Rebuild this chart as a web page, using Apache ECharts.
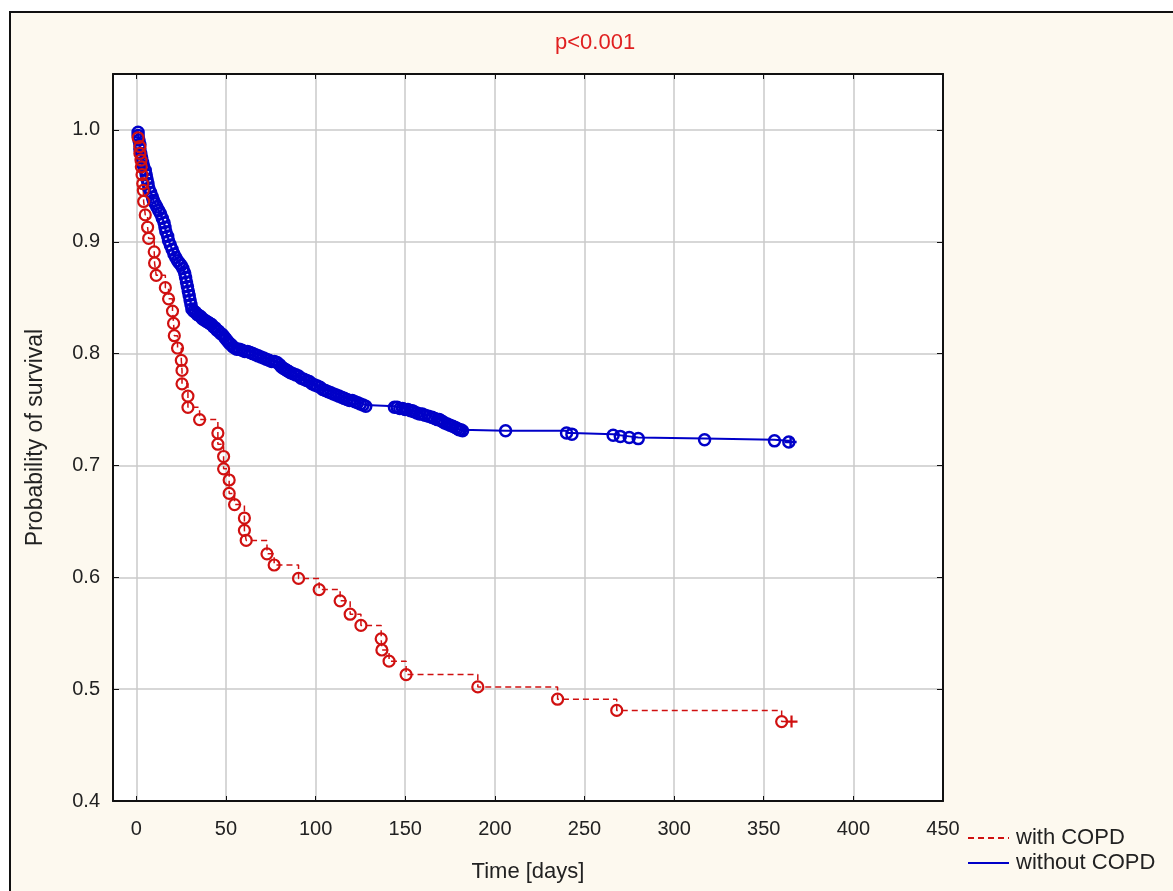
<!DOCTYPE html>
<html>
<head>
<meta charset="utf-8">
<title>Survival</title>
<script src="https://cdn.jsdelivr.net/npm/echarts@6/dist/echarts.min.js"></script>
<style>
  html, body { margin: 0; padding: 0; background: #fff; }
  #chart { width: 1173px; height: 891px; }
</style>
</head>
<body>
<div id="chart"></div>
<script>
// tick values
var xTicks = [0, 50, 100, 150, 200, 250, 300, 350, 400, 450];
var yTicks = [0.4, 0.5, 0.6, 0.7, 0.8, 0.9, 1.0];

// with COPD: [day, survival] at each event (circle)
var copdStart = [0, 1.0];
var copdEvents = [
  [1, 0.993], [2, 0.985], [2, 0.979], [2.6, 0.973], [2.8, 0.967], [3.2, 0.960], [3.6, 0.952], [3.9, 0.946],
  [4.1, 0.936], [5, 0.924], [6.3, 0.913], [6.9, 0.903], [10, 0.891], [10.2, 0.881], [11.1, 0.870], [16.2, 0.859],
  [18, 0.849], [20.2, 0.838], [20.8, 0.827], [21.2, 0.816], [23, 0.805], [25.1, 0.794], [25.5, 0.785], [25.5, 0.773],
  [28.8, 0.762], [28.8, 0.752], [35.3, 0.741], [45.5, 0.729], [45.5, 0.719], [48.7, 0.708], [48.7, 0.697], [51.8, 0.687],
  [51.8, 0.675], [54.8, 0.665], [60.3, 0.653], [60.3, 0.642], [61.3, 0.633], [72.9, 0.621], [76.9, 0.611], [90.5, 0.599],
  [102, 0.589], [113.7, 0.579], [119.3, 0.567], [125.3, 0.557], [136.6, 0.545], [137, 0.535], [141, 0.525], [150.5, 0.513],
  [190.5, 0.502], [235, 0.491], [268, 0.481], [360, 0.471]
];
var copdCensored = [[365.5, 0.471]];

// without COPD
var noCopdStart = [0, 1.0];
var noCopdEvents = [
  [1, 0.998], [1, 0.995], [1.5, 0.991], [2, 0.987], [2, 0.983], [2.5, 0.979], [3, 0.975], [3.5, 0.971],
  [4, 0.968], [5, 0.964], [5.5, 0.960], [6, 0.956], [6.5, 0.952], [7, 0.948], [8, 0.944], [9, 0.940],
  [9.5, 0.937], [10.5, 0.934], [11.5, 0.931], [12.5, 0.928], [13.5, 0.925], [14.5, 0.921], [15.5, 0.917], [16, 0.913],
  [16.5, 0.909], [17.5, 0.905], [18, 0.901], [19, 0.897], [20, 0.893], [21, 0.889], [22, 0.886], [23, 0.883],
  [24, 0.881], [25, 0.879], [26, 0.876], [27, 0.872], [27.5, 0.868], [28, 0.864], [28.5, 0.860], [29, 0.856],
  [29.5, 0.852], [30, 0.848], [30.5, 0.844], [31, 0.840], [32, 0.838], [33, 0.837], [34, 0.835], [35, 0.834],
  [36, 0.833], [37, 0.831], [38, 0.830], [39, 0.829], [40, 0.828], [41, 0.827], [42, 0.826], [43, 0.824],
  [44, 0.823], [45, 0.821], [46, 0.820], [47, 0.818], [48, 0.817], [49, 0.815], [50, 0.813], [51, 0.811],
  [52, 0.809], [53, 0.808], [54, 0.806], [55, 0.805], [56, 0.804], [57.5, 0.804], [59, 0.803], [60.5, 0.802],
  [62, 0.802], [63.5, 0.801], [65, 0.800], [66.5, 0.799], [68, 0.798], [69.5, 0.797], [71, 0.796], [72.5, 0.795],
  [74, 0.794], [75.5, 0.793], [77, 0.793], [78.5, 0.792], [80, 0.790], [81, 0.788], [82, 0.787], [83, 0.786],
  [84, 0.785], [85, 0.784], [86, 0.783], [87.5, 0.782], [89, 0.781], [90.5, 0.780], [92, 0.778], [93.5, 0.777],
  [95, 0.776], [96.5, 0.775], [98, 0.773], [99.5, 0.772], [101, 0.771], [102.5, 0.770], [104, 0.768], [105.5, 0.767],
  [107, 0.766], [108.5, 0.765], [110, 0.764], [111.5, 0.763], [113, 0.762], [114.5, 0.761], [116, 0.760], [117.5, 0.759],
  [119, 0.758], [120.5, 0.758], [122, 0.757], [123.5, 0.756], [125, 0.755], [126.5, 0.754], [128, 0.753], [144, 0.752],
  [145.5, 0.752], [147, 0.751], [148.5, 0.751], [150, 0.750], [151.5, 0.750], [153, 0.749], [154, 0.749], [155, 0.748],
  [156.5, 0.747], [158, 0.746], [159.5, 0.746], [161, 0.745], [163, 0.744], [165, 0.743], [166.5, 0.742], [168, 0.741],
  [169, 0.741], [170, 0.740], [171, 0.739], [172, 0.738], [173.5, 0.737], [175, 0.736], [176.5, 0.735], [178, 0.734],
  [179, 0.733], [180, 0.732], [181, 0.732], [182, 0.731], [206, 0.731], [240, 0.729], [243, 0.728], [266, 0.727],
  [270, 0.726], [275, 0.725], [280, 0.724], [317, 0.723], [356, 0.722], [364, 0.721]
];
var noCopdCensored = [[365, 0.721]];

var RED = '#d01010';
var BLUE = '#0000c8';
var PLUS = 'path://M0,5L10,5M5,0L5,10';
var font = '"Liberation Sans", Arial, sans-serif';

function buildData(start, events, censored) {
  var d = [{ value: start, symbol: 'none' }];
  events.forEach(function (p) { d.push({ value: p }); });
  censored.forEach(function (p) { d.push({ value: p, symbol: PLUS, symbolSize: 12 }); });
  return d;
}

var chart = echarts.init(document.getElementById('chart'));
chart.setOption({
  animation: false,
  backgroundColor: '#ffffff',
  graphic: [
    {
      type: 'rect', z: -10, silent: true,
      shape: { x: 10, y: 12, width: 1200, height: 900 },
      style: { fill: '#fdf9ef', stroke: '#111', lineWidth: 2 }
    },
    {
      type: 'text', left: 555, top: 32,
      style: { text: 'p<0.001', fill: '#e02020', font: '22px ' + font }
    }
  ],
  grid: { left: 113, right: 230, top: 74, bottom: 90, show: true, backgroundColor: '#fff', borderWidth: 0 },
  legend: {
    orient: 'vertical', left: 967, top: 827, itemWidth: 41, itemHeight: 14, itemGap: 3, padding: 0,
    data: ['with COPD', 'without COPD'],
    itemStyle: { opacity: 0 },
    textStyle: { fontFamily: font, fontSize: 22, color: '#222', padding: [0, 0, 0, 2] }
  },
  xAxis: [
    {
      type: 'value', min: -13, max: 450,
      name: 'Time [days]', nameLocation: 'middle', nameGap: 60,
      nameTextStyle: { fontFamily: font, fontSize: 22, color: '#222' },
      axisLine: { onZero: false, lineStyle: { color: '#111', width: 2 } },
      axisTick: { inside: true, length: 5, customValues: xTicks, lineStyle: { color: '#111' } },
      axisLabel: { customValues: xTicks, margin: 18, fontFamily: font, fontSize: 20, color: '#222' },
      splitLine: { show: true, lineStyle: { color: '#cacaca', width: 1.5 } }
    },
    {
      type: 'value', min: -13, max: 450, position: 'top',
      axisLine: { onZero: false, lineStyle: { color: '#111', width: 2 } },
      axisTick: { inside: true, length: 5, customValues: xTicks, lineStyle: { color: '#111' } },
      axisLabel: { show: false }, splitLine: { show: false }
    }
  ],
  yAxis: [
    {
      type: 'value', min: 0.4, max: 1.05,
      name: 'Probability of survival', nameLocation: 'middle', nameGap: 66,
      nameTextStyle: { fontFamily: font, fontSize: 23, color: '#222' },
      axisLine: { show: true, onZero: false, lineStyle: { color: '#111', width: 2 } },
      axisTick: { show: true, inside: true, length: 6, customValues: yTicks, lineStyle: { color: '#111' } },
      axisLabel: {
        customValues: yTicks, margin: 13, fontFamily: font, fontSize: 20, color: '#222',
        formatter: function (v) { return v.toFixed(1); }
      },
      splitLine: { show: true, lineStyle: { color: '#cacaca', width: 1.5 } }
    },
    {
      type: 'value', min: 0.4, max: 1.05, position: 'right',
      axisLine: { show: true, onZero: false, lineStyle: { color: '#111', width: 2 } },
      axisTick: { show: true, inside: true, length: 6, customValues: yTicks, lineStyle: { color: '#111' } },
      axisLabel: { show: false }, splitLine: { show: false }
    }
  ],
  series: [
    {
      name: 'without COPD', type: 'line', step: 'end',
      data: buildData(noCopdStart, noCopdEvents, noCopdCensored),
      symbol: 'circle', symbolSize: 11, showAllSymbol: true,
      lineStyle: { color: BLUE, width: 2 },
      itemStyle: { color: 'rgba(255,255,255,0)', borderColor: BLUE, borderWidth: 2.5 }
    },
    {
      name: 'with COPD', type: 'line', step: 'end',
      data: buildData(copdStart, copdEvents, copdCensored),
      symbol: 'circle', symbolSize: 11, showAllSymbol: true,
      lineStyle: { color: RED, width: 1.5, type: [6, 4] },
      itemStyle: { color: 'rgba(255,255,255,0)', borderColor: RED, borderWidth: 2.2 }
    }
  ]
});
</script>
</body>
</html>
